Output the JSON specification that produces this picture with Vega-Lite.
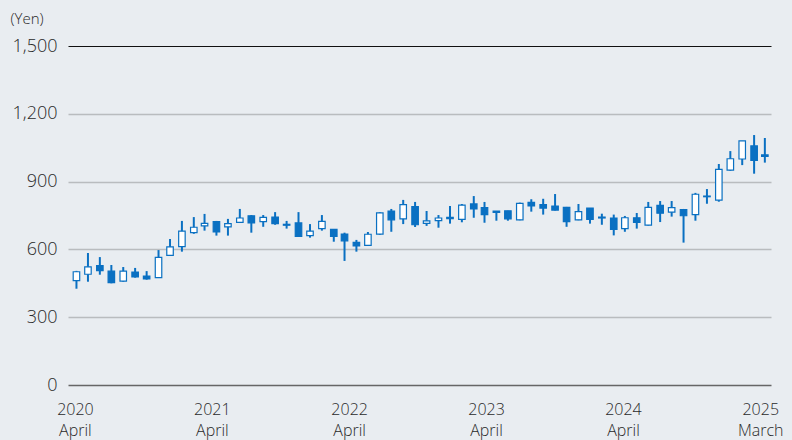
{
  "$schema": "https://vega.github.io/schema/vega-lite/v6.json",
  "autosize": "none",
  "width": 703,
  "height": 339,
  "padding": {"left": 68, "top": 46, "right": 21, "bottom": 55},
  "background": "#e9edf1",
  "config": {
    "view": {"stroke": null},
    "font": "Open Sans",
    "axis": {"labelFont": "Open Sans", "titleFont": "Open Sans"}
  },
  "data": {
    "values": [
      {"month": "2020-04-01", "open": 462, "close": 501, "high": 505, "low": 426},
      {"month": "2020-05-01", "open": 490, "close": 523, "high": 584, "low": 457},
      {"month": "2020-06-01", "open": 528, "close": 506, "high": 566, "low": 488},
      {"month": "2020-07-01", "open": 504, "close": 453, "high": 531, "low": 450},
      {"month": "2020-08-01", "open": 460, "close": 504, "high": 522, "low": 457},
      {"month": "2020-09-01", "open": 500, "close": 478, "high": 518, "low": 475},
      {"month": "2020-10-01", "open": 482, "close": 469, "high": 504, "low": 466},
      {"month": "2020-11-01", "open": 475, "close": 565, "high": 597, "low": 474},
      {"month": "2020-12-01", "open": 574, "close": 611, "high": 646, "low": 572},
      {"month": "2021-01-01", "open": 612, "close": 681, "high": 726, "low": 590},
      {"month": "2021-02-01", "open": 674, "close": 698, "high": 743, "low": 669},
      {"month": "2021-03-01", "open": 704, "close": 715, "high": 757, "low": 683},
      {"month": "2021-04-01", "open": 723, "close": 677, "high": 726, "low": 661},
      {"month": "2021-05-01", "open": 700, "close": 714, "high": 735, "low": 661},
      {"month": "2021-06-01", "open": 720, "close": 739, "high": 779, "low": 718},
      {"month": "2021-07-01", "open": 749, "close": 717, "high": 752, "low": 674},
      {"month": "2021-08-01", "open": 723, "close": 742, "high": 752, "low": 700},
      {"month": "2021-09-01", "open": 743, "close": 714, "high": 765, "low": 709},
      {"month": "2021-10-01", "open": 711, "close": 707, "high": 726, "low": 692},
      {"month": "2021-11-01", "open": 717, "close": 658, "high": 765, "low": 656},
      {"month": "2021-12-01", "open": 661, "close": 681, "high": 712, "low": 652},
      {"month": "2022-01-01", "open": 692, "close": 724, "high": 752, "low": 683},
      {"month": "2022-02-01", "open": 689, "close": 658, "high": 690, "low": 634},
      {"month": "2022-03-01", "open": 668, "close": 638, "high": 674, "low": 549},
      {"month": "2022-04-01", "open": 631, "close": 615, "high": 642, "low": 590},
      {"month": "2022-05-01", "open": 618, "close": 667, "high": 677, "low": 618},
      {"month": "2022-06-01", "open": 668, "close": 762, "high": 765, "low": 665},
      {"month": "2022-07-01", "open": 770, "close": 731, "high": 779, "low": 678},
      {"month": "2022-08-01", "open": 735, "close": 798, "high": 819, "low": 712},
      {"month": "2022-09-01", "open": 789, "close": 709, "high": 810, "low": 699},
      {"month": "2022-10-01", "open": 715, "close": 726, "high": 770, "low": 704},
      {"month": "2022-11-01", "open": 727, "close": 739, "high": 752, "low": 696},
      {"month": "2022-12-01", "open": 742, "close": 736, "high": 792, "low": 714},
      {"month": "2023-01-01", "open": 733, "close": 796, "high": 801, "low": 720},
      {"month": "2023-02-01", "open": 801, "close": 779, "high": 836, "low": 740},
      {"month": "2023-03-01", "open": 785, "close": 754, "high": 810, "low": 718},
      {"month": "2023-04-01", "open": 770, "close": 764, "high": 770, "low": 727},
      {"month": "2023-05-01", "open": 771, "close": 735, "high": 771, "low": 727},
      {"month": "2023-06-01", "open": 731, "close": 804, "high": 807, "low": 729},
      {"month": "2023-07-01", "open": 808, "close": 792, "high": 822, "low": 767},
      {"month": "2023-08-01", "open": 798, "close": 783, "high": 824, "low": 754},
      {"month": "2023-09-01", "open": 792, "close": 774, "high": 845, "low": 772},
      {"month": "2023-10-01", "open": 786, "close": 723, "high": 788, "low": 700},
      {"month": "2023-11-01", "open": 731, "close": 767, "high": 801, "low": 729},
      {"month": "2023-12-01", "open": 783, "close": 733, "high": 783, "low": 714},
      {"month": "2024-01-01", "open": 743, "close": 739, "high": 758, "low": 709},
      {"month": "2024-02-01", "open": 739, "close": 689, "high": 754, "low": 662},
      {"month": "2024-03-01", "open": 692, "close": 740, "high": 748, "low": 678},
      {"month": "2024-04-01", "open": 740, "close": 720, "high": 761, "low": 692},
      {"month": "2024-05-01", "open": 707, "close": 786, "high": 810, "low": 705},
      {"month": "2024-06-01", "open": 795, "close": 760, "high": 814, "low": 721},
      {"month": "2024-07-01", "open": 765, "close": 785, "high": 814, "low": 745},
      {"month": "2024-08-01", "open": 776, "close": 749, "high": 779, "low": 630},
      {"month": "2024-09-01", "open": 754, "close": 844, "high": 850, "low": 727},
      {"month": "2024-10-01", "open": 836, "close": 833, "high": 867, "low": 802},
      {"month": "2024-11-01", "open": 818, "close": 954, "high": 978, "low": 811},
      {"month": "2024-12-01", "open": 951, "close": 1001, "high": 1035, "low": 948},
      {"month": "2025-01-01", "open": 1000, "close": 1080, "high": 1080, "low": 973},
      {"month": "2025-02-01", "open": 1058, "close": 994, "high": 1106, "low": 935},
      {"month": "2025-03-01", "open": 1018, "close": 1012, "high": 1093, "low": 984}
    ]
  },
  "encoding": {
    "x": {
      "field": "month",
      "type": "temporal",
      "scale": {
        "type": "utc",
        "domain": [
          {"year": 2020, "month": 3, "date": 23, "utc": true},
          {"year": 2025, "month": 3, "date": 4, "utc": true}
        ]
      },
      "axis": {
        "title": null,
        "grid": false,
        "domain": false,
        "ticks": false,
        "values": [
          {"year": 2020, "month": 3, "date": 28, "utc": true},
          {"year": 2021, "month": 3, "date": 20, "utc": true},
          {"year": 2022, "month": 3, "date": 13, "utc": true},
          {"year": 2023, "month": 3, "date": 5, "utc": true},
          {"year": 2024, "month": 2, "date": 25, "utc": true},
          {"year": 2025, "month": 2, "date": 17, "utc": true}
        ],
        "labelExpr": "[utcFormat(datum.value, '%Y'), utcFormat(datum.value, '%Y') == '2025' ? 'March' : 'April']",
        "labelFontSize": 16,
        "labelFontWeight": 300,
        "labelColor": "#2a2a2a",
        "labelPadding": 16,
        "labelLineHeight": 21,
        "labelAlign": "center",
        "labelBaseline": "top",
        "labelOverlap": false,
        "labelFlush": false
      }
    }
  },
  "layer": [
    {
      "mark": {"type": "rule", "color": "#0a70c2", "strokeWidth": 2},
      "encoding": {
        "y": {
          "field": "low",
          "type": "quantitative",
          "scale": {"domain": [0, 1500], "nice": false},
          "axis": {
            "values": [0, 300, 600, 900, 1200, 1500],
            "format": ",d",
            "title": "(Yen)",
            "titleAngle": 0,
            "titleAlign": "left",
            "titleBaseline": "middle",
            "titleX": -58,
            "titleY": -28,
            "titleFontSize": 15,
            "titleFontWeight": 300,
            "titleColor": "#2a2a2a",
            "labelFontSize": 18,
            "labelFontWeight": 300,
            "labelColor": "#2a2a2a",
            "labelPadding": 11,
            "ticks": false,
            "domain": false,
            "grid": true,
            "gridColor": {
              "condition": [
                {"test": "datum.value === 1500", "value": "#111111"},
                {"test": "datum.value === 0", "value": "#666666"}
              ],
              "value": "#b9bcbf"
            },
            "gridWidth": {
              "condition": {"test": "datum.value === 1500", "value": 1},
              "value": 1.5
            }
          }
        },
        "y2": {"field": "high"}
      }
    },
    {
      "mark": {"type": "bar", "size": 6.5, "stroke": "#0a70c2", "strokeWidth": 1.2},
      "encoding": {
        "y": {"field": "open", "type": "quantitative"},
        "y2": {"field": "close"},
        "fill": {
          "condition": {"test": "datum.close < datum.open", "value": "#0a70c2"},
          "value": "#ffffff"
        }
      }
    }
  ]
}
